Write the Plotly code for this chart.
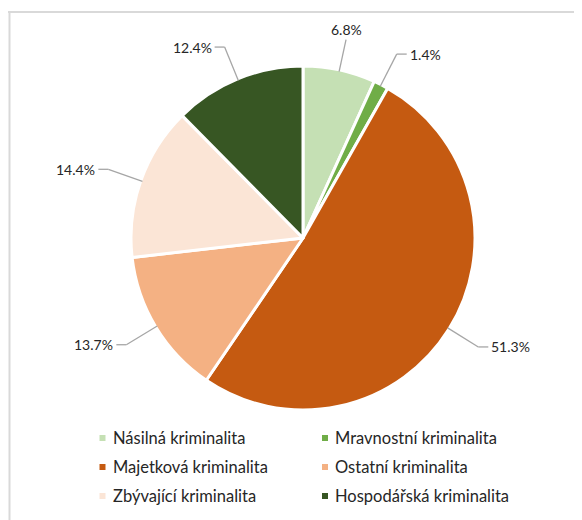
import math
import plotly.graph_objects as go

# ---- data ----
categories = ["Násilná kriminalita", "Mravnostní kriminalita", "Majetková kriminalita",
              "Ostatní kriminalita", "Zbývající kriminalita", "Hospodářská kriminalita"]
shares = [6.8, 1.4, 51.3, 13.7, 14.4, 12.4]
colors = ["#C5E0B4", "#70AD47", "#C55A11", "#F4B183", "#FBE5D6", "#375623"]

# ---- layout constants (page pixels; the page body has an 8px margin) ----
OFF = 8
W, H = 582 - OFF, 520 - OFF
CX, CY, R = 303, 238, 172
TEXT = "#262626"
FONT = "Lato"


def px(x):
    return (x - OFF) / W


def py(y):
    return 1 - (y - OFF) / H


fig = go.Figure()
fig.add_trace(go.Pie(
    labels=categories, values=shares, sort=False, direction="clockwise", rotation=0,
    marker=dict(colors=colors, line=dict(color="white", width=3)),
    textinfo="none", hoverinfo="label+percent", showlegend=False,
    domain=dict(x=[px(CX - R), px(CX + R)], y=[py(CY + R), py(CY - R)]),
))

shapes = []
annotations = []

# frame lines
shapes.append(dict(type="line", xref="paper", yref="paper", x0=0, x1=1, y0=py(12), y1=py(12),
                   line=dict(color="#D9D9D9", width=2)))
shapes.append(dict(type="line", xref="paper", yref="paper", x0=px(9.5), x1=px(9.5), y0=py(12), y1=0,
                   line=dict(color="#D9D9D9", width=2)))

# data labels with leader lines, computed from the slice angles
total = sum(shares)
cum = 0.0
for v in shares:
    th = 2 * math.pi * (cum + v / 2) / total
    cum += v
    ux, uy = math.sin(th), -math.cos(th)
    top = abs(ux) < 0.35
    k = 1.18 if top else 1.2
    x0, y0 = CX + R * 0.99 * ux, CY + R * 0.99 * uy
    x1, y1 = CX + R * k * ux, CY + R * k * uy
    txt = f"{v / total * 100:.1f}%"
    lc = dict(color="#A6A6A6", width=1.3)
    shapes.append(dict(type="line", xref="paper", yref="paper",
                       x0=px(x0), y0=py(y0), x1=px(x1), y1=py(y1), line=lc))
    if top:
        annotations.append(dict(x=px(x1), y=py(y1), xref="paper", yref="paper", text=txt,
                                showarrow=False, xanchor="center", yanchor="bottom",
                                font=dict(family=FONT, size=14, color=TEXT)))
    else:
        side = 1 if ux > 0 else -1
        x2 = x1 + 10 * side
        shapes.append(dict(type="line", xref="paper", yref="paper",
                           x0=px(x1), y0=py(y1), x1=px(x2), y1=py(y1), line=lc))
        annotations.append(dict(x=px(x2 + 1 * side), y=py(y1), xref="paper", yref="paper", text=txt,
                                showarrow=False, xanchor="left" if side > 0 else "right",
                                yanchor="middle",
                                font=dict(family=FONT, size=14, color=TEXT)))

# legend (two columns, three rows)
col_marker_x = [102.5, 325]
row_y0, row_dy = 438, 29
for i, (name, col) in enumerate(zip(categories, colors)):
    r, c = divmod(i, 2)
    mx, my = col_marker_x[c], row_y0 + r * row_dy
    shapes.append(dict(type="rect", xref="paper", yref="paper",
                       x0=px(mx - 3), x1=px(mx + 3), y0=py(my + 3), y1=py(my - 3),
                       fillcolor=col, line=dict(width=0)))
    annotations.append(dict(x=px(mx + 8), y=py(my), xref="paper", yref="paper", text=name,
                            showarrow=False, xanchor="left", yanchor="middle",
                            font=dict(family=FONT, size=16.5, color=TEXT)))

fig.update_layout(
    width=W, height=H,
    margin=dict(l=0, r=0, t=0, b=0),
    paper_bgcolor="white", plot_bgcolor="white",
    shapes=shapes, annotations=annotations,
    showlegend=False,
)

fig.write_html("out.html")
